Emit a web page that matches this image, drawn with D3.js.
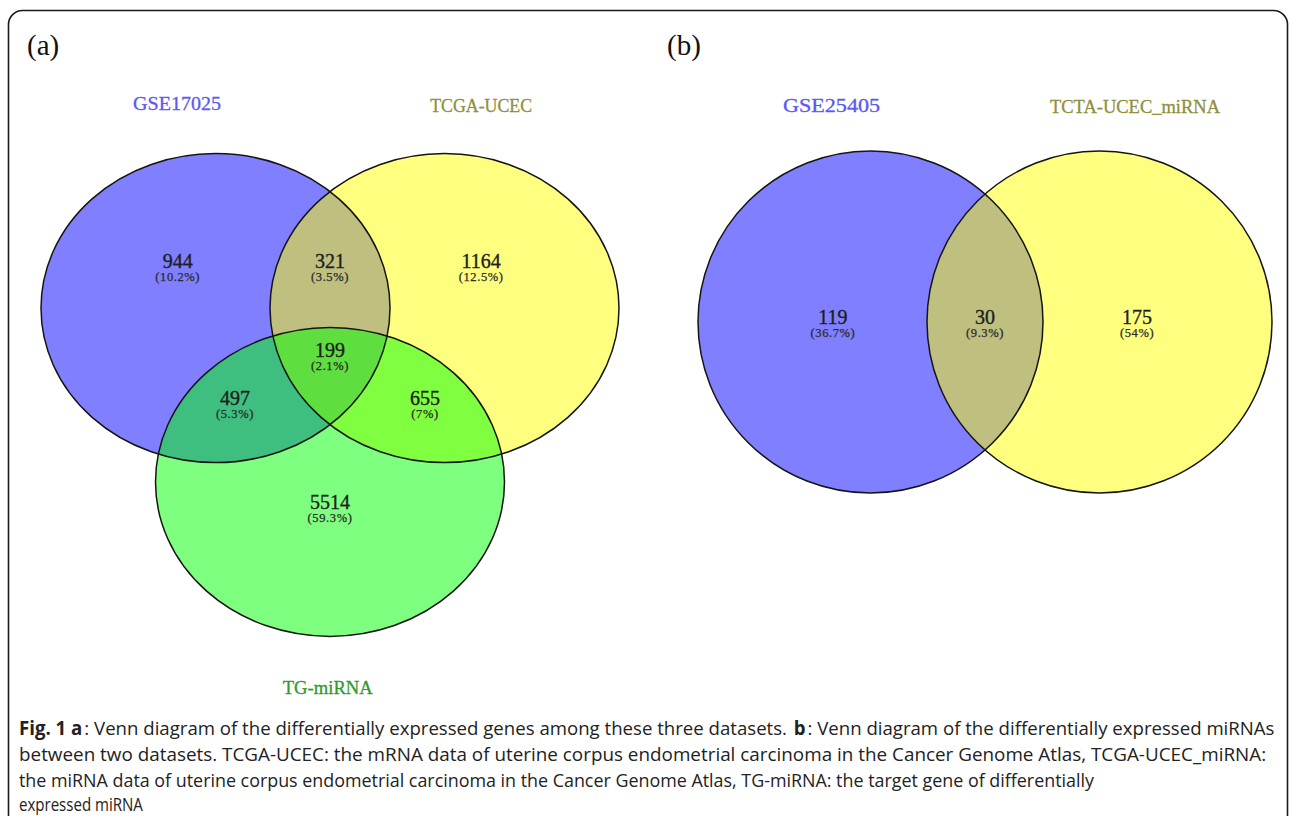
<!DOCTYPE html>
<html>
<head>
<meta charset="utf-8">
<script src="https://cdn.jsdelivr.net/npm/d3@7"></script>
<style>
  html, body { margin: 0; padding: 0; background: #fff; }
  svg { display: block; }
</style>
</head>
<body>
<svg id="fig" width="1290" height="816"></svg>
<script>
// ---- data -------------------------------------------------------------
// Panel (a): three gene sets
const setsA = ["GSE17025", "TCGA-UCEC", "TG-miRNA"];
const regionKeysA = ["A", "AB", "B", "ABC", "AC", "BC", "C"];
const regionCountsA = [944, 321, 1164, 199, 497, 655, 5514];

// Panel (b): two miRNA sets
const setsB = ["GSE25405", "TCTA-UCEC_miRNA"];
const regionKeysB = ["A", "AB", "B"];
const regionCountsB = [119, 30, 175];

const captionLines = [
  [["Fig. 1 a", true], [": Venn diagram of the differentially expressed genes among these three datasets.", false], ["b", true], [": Venn diagram of the differentially expressed miRNAs", false]],
  [["between two datasets. TCGA-UCEC: the mRNA data of uterine corpus endometrial carcinoma in the Cancer Genome Atlas, TCGA-UCEC_miRNA:", false]],
  [["the miRNA data of uterine corpus endometrial carcinoma in the Cancer Genome Atlas, TG-miRNA: the target gene of differentially", false]],
  [["expressed miRNA", false]]
];

// ---- styling / layout -------------------------------------------------
const setFills = ["#0000ff", "#ffff00", "#00ff00"];
const labelColors = ["#5a5af0", "#8f8f3a", "#2f9a2f"];

const svg = d3.select("#fig");

// frame
svg.append("rect")
  .attr("x", 8.5).attr("y", 10.5)
  .attr("width", 1279).attr("height", 900)
  .attr("rx", 14).attr("ry", 14)
  .attr("fill", "none").attr("stroke", "#1a1a1a").attr("stroke-width", 1.6);

// panel letters
svg.append("text").attr("x", 27).attr("y", 55).text("(a)")
  .attr("font-family", "Liberation Serif").attr("font-size", 29).attr("fill", "#111");
svg.append("text").attr("x", 667).attr("y", 55).text("(b)")
  .attr("font-family", "Liberation Serif").attr("font-size", 29).attr("fill", "#111");

function pctFormat(v, total) {
  return "(" + (Math.round(v / total * 1000) / 10) + "%)";
}

// Draw a Venn panel: sets laid out in unit coordinates, mapped to pixels by scales
function drawVenn(g, cfg) {
  const x = d3.scaleLinear().domain([-1, 1]).range(cfg.xRange);
  const y = d3.scaleLinear().domain([-1, 1]).range(cfg.yRange);
  const total = d3.sum(cfg.counts);

  const shapes = cfg.sets.map((name, i) => ({ name, i, ...cfg.shapes[i] }));

  // translucent fills, blended in drawing order
  g.selectAll("ellipse.fill").data(shapes).join("ellipse")
    .attr("class", "fill")
    .attr("cx", d => x(d.ux)).attr("cy", d => y(d.uy))
    .attr("rx", cfg.rx).attr("ry", cfg.ry)
    .attr("fill", d => setFills[d.i]).attr("fill-opacity", 0.5);

  // outlines on top
  g.selectAll("ellipse.edge").data(shapes).join("ellipse")
    .attr("class", "edge")
    .attr("cx", d => x(d.ux)).attr("cy", d => y(d.uy))
    .attr("rx", cfg.rx).attr("ry", cfg.ry)
    .attr("fill", "none").attr("stroke", "#151515").attr("stroke-width", 1.5);

  // set names
  g.selectAll("text.setname").data(shapes).join("text")
    .attr("class", "setname")
    .attr("x", d => x(d.lx)).attr("y", d => y(d.ly))
    .attr("text-anchor", "middle")
    .attr("font-family", "Liberation Serif").attr("font-size", 19)
    .attr("fill", d => labelColors[d.i])
    .attr("stroke", d => labelColors[d.i]).attr("stroke-width", 0.3)
    .attr("textLength", d => d.lw).attr("lengthAdjust", "spacingAndGlyphs")
    .text(d => d.name);

  const regions = cfg.keys.map((k, i) => ({ key: k, n: cfg.counts[i], pos: cfg.regionPos[k] }));

  const lab = g.selectAll("g.region").data(regions).join("g").attr("class", "region")
    .attr("transform", d => `translate(${x(d.pos[0])},${y(d.pos[1])})`);
  lab.append("text")
    .attr("text-anchor", "middle").attr("y", 7)
    .attr("font-family", "Liberation Serif").attr("font-size", 20)
    .attr("fill", "#1e1e1e").attr("stroke", "#1e1e1e").attr("stroke-width", 0.35)
    .text(d => d.n);
  lab.append("text")
    .attr("text-anchor", "middle").attr("y", 20)
    .attr("font-family", "Liberation Serif").attr("font-size", 12.5)
    .attr("fill", "#2a2a2a").attr("stroke", "#2a2a2a").attr("stroke-width", 0.25)
    .attr("letter-spacing", 0.6)
    .text(d => pctFormat(d.n, total));
}

// Panel (a): three ellipses
drawVenn(svg.append("g"), {
  sets: setsA,
  keys: regionKeysA,
  counts: regionCountsA,
  xRange: [101, 559],   // unit -1..1 horizontally
  yRange: [134, 656],   // unit -1..1 vertically
  rx: 174.5, ry: 154.5,
  shapes: [
    { ux: -0.5, uy: -0.333, lx: -0.668, ly: -1.092, lw: 88 },
    { ux: 0.5, uy: -0.333, lx: 0.66, ly: -1.085, lw: 102 },
    { ux: 0.0, uy: 0.333, lx: -0.01, ly: 1.146, lw: 90 }
  ],
  regionPos: {
    A: [-0.665, -0.515], AB: [0.0, -0.515], B: [0.66, -0.515],
    ABC: [0.0, -0.173], AC: [-0.415, 0.011], BC: [0.415, 0.011], C: [0.0, 0.41]
  }
});

// Panel (b): two circles
drawVenn(svg.append("g"), {
  sets: setsB,
  keys: regionKeysB,
  counts: regionCountsB,
  xRange: [756, 1214],
  yRange: [134, 510],
  rx: 172.5, ry: 171,
  shapes: [
    { ux: -0.5, uy: 0.0, lx: -0.67, ly: -1.117, lw: 97 },
    { ux: 0.5, uy: 0.0, lx: 0.655, ly: -1.112, lw: 170 }
  ],
  regionPos: { A: [-0.664, -0.027], AB: [0.0, -0.027], B: [0.664, -0.027] }
});

// caption: runs laid out at natural width, then each line is scaled horizontally to fit
const cap = svg.append("g")
  .attr("font-family", "Open Sans").attr("font-size", 19).attr("fill", "#222");
const capWidths = [1256, 1248, 1076, 124];
const capBaselines = [735, 761, 787, 811];
captionLines.forEach((line, i) => {
  const lg = cap.append("g");
  let cx = 0;
  line.forEach(([s, bold], j) => {
    const t = lg.append("text")
      .attr("x", cx).attr("y", 0)
      .attr("font-weight", bold ? 700 : 400)
      .text(s);
    const w = t.node().getComputedTextLength();
    cx += w + (j < line.length - 1 ? (s.endsWith(".") ? 6 : 2) : 0);
  });
  const k = capWidths[i] / cx;
  lg.attr("transform", `translate(19,${capBaselines[i]}) scale(${k},1)`);
});
</script>
</body>
</html>
